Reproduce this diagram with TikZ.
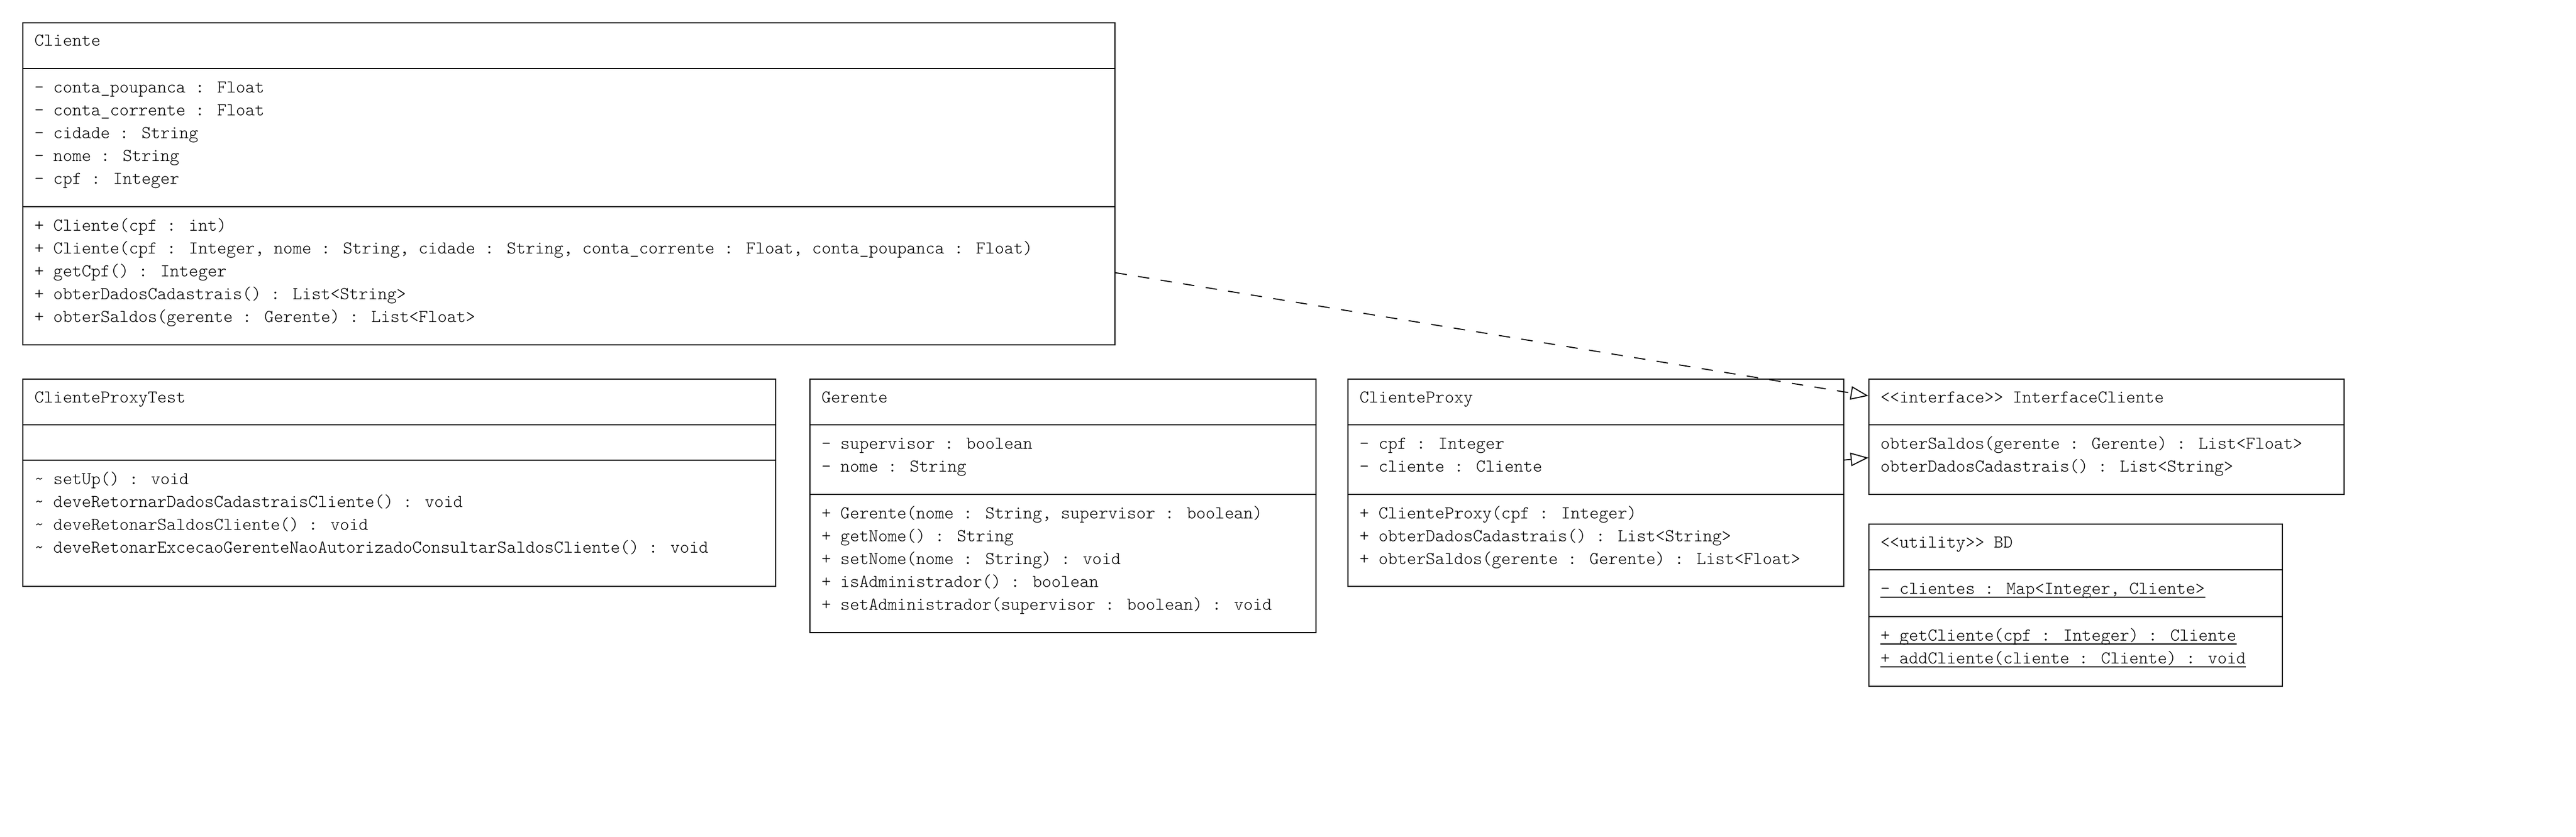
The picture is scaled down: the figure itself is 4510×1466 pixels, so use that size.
\documentclass[tikz,border=0pt]{standalone}
\usetikzlibrary{arrows.meta,fit}
\begin{document}
\begin{tikzpicture}[x=0.5pt,y=-0.5pt,
  box/.style={draw, line width=0.9pt, inner sep=0pt},
  sep/.style={line width=0.9pt},
  txt/.style={anchor=base west, inner sep=0pt, font={\fontsize{15.75pt}{20pt}\ttfamily\fontseries{l}\selectfont}},
  uline/.style={line width=0.6pt},
  realize/.style={line width=0.9pt, -{Triangle[open,length=15.5pt,width=11.75pt]}},
  dashedrealize/.style={realize, dash pattern=on 10pt off 10pt}]
\useasboundingbox (0,0) rectangle (4510,1466);

% ---------------- Cliente
\node[box, fit={(40,40)(1952,604)}] (cliente) {};
\draw[sep] (cliente.west |- 0,120) -- (cliente.east |- 0,120);
\draw[sep] (cliente.west |- 0,362) -- (cliente.east |- 0,362);
\node[txt] (cl-h) at (60,81) {Cliente};
\node[txt] (cl-a1) at (60,162.5) {- conta\_poupanca : Float};
\node[txt] (cl-a2) at (60,202.5) {- conta\_corrente : Float};
\node[txt] (cl-a3) at (60,242.5) {- cidade : String};
\node[txt] (cl-a4) at (60,282.5) {- nome : String};
\node[txt] (cl-a5) at (60,322.5) {- cpf : Integer};
\node[txt] (cl-m1) at (60,404.5) {+ Cliente(cpf : int)};
\node[txt] (cl-m2) at (60,444.5) {+ Cliente(cpf : Integer, nome : String, cidade : String, conta\_corrente : Float, conta\_poupanca : Float)};
\node[txt] (cl-m3) at (60,484.5) {+ getCpf() : Integer};
\node[txt] (cl-m4) at (60,524.5) {+ obterDadosCadastrais() : List<String>};
\node[txt] (cl-m5) at (60,564.5) {+ obterSaldos(gerente : Gerente) : List<Float>};

% ---------------- ClienteProxyTest
\node[box, fit={(40,664)(1358,1027)}] (test) {};
\draw[sep] (test.west |- 0,744) -- (test.east |- 0,744);
\draw[sep] (test.west |- 0,806) -- (test.east |- 0,806);
\node[txt] (t-h) at (60,705) {ClienteProxyTest};
\node[txt] (t-m1) at (60,848) {\textasciitilde{} setUp() : void};
\node[txt] (t-m2) at (60,888) {\textasciitilde{} deveRetornarDadosCadastraisCliente() : void};
\node[txt] (t-m3) at (60,928) {\textasciitilde{} deveRetonarSaldosCliente() : void};
\node[txt] (t-m4) at (60,968) {\textasciitilde{} deveRetonarExcecaoGerenteNaoAutorizadoConsultarSaldosCliente() : void};

% ---------------- Gerente
\node[box, fit={(1418,664)(2304,1108)}] (gerente) {};
\draw[sep] (gerente.west |- 0,744) -- (gerente.east |- 0,744);
\draw[sep] (gerente.west |- 0,866) -- (gerente.east |- 0,866);
\node[txt] (g-h) at (1438,705) {Gerente};
\node[txt] (g-a1) at (1438,786.5) {- supervisor : boolean};
\node[txt] (g-a2) at (1438,826.5) {- nome : String};
\node[txt] (g-m1) at (1438,908.5) {+ Gerente(nome : String, supervisor : boolean)};
\node[txt] (g-m2) at (1438,948.5) {+ getNome() : String};
\node[txt] (g-m3) at (1438,988.5) {+ setNome(nome : String) : void};
\node[txt] (g-m4) at (1438,1028.5) {+ isAdministrador() : boolean};
\node[txt] (g-m5) at (1438,1068.5) {+ setAdministrador(supervisor : boolean) : void};

% ---------------- ClienteProxy
\node[box, fit={(2360,664)(3228,1027)}] (proxy) {};
\draw[sep] (proxy.west |- 0,744) -- (proxy.east |- 0,744);
\draw[sep] (proxy.west |- 0,866) -- (proxy.east |- 0,866);
\node[txt] (p-h) at (2380,705) {ClienteProxy};
\node[txt] (p-a1) at (2380,786.5) {- cpf : Integer};
\node[txt] (p-a2) at (2380,826.5) {- cliente : Cliente};
\node[txt] (p-m1) at (2380,908.5) {+ ClienteProxy(cpf : Integer)};
\node[txt] (p-m2) at (2380,948.5) {+ obterDadosCadastrais() : List<String>};
\node[txt] (p-m3) at (2380,988.5) {+ obterSaldos(gerente : Gerente) : List<Float>};

% ---------------- InterfaceCliente
\node[box, fit={(3272,664)(4104,866)}] (iface) {};
\draw[sep] (iface.west |- 0,744) -- (iface.east |- 0,744);
\node[txt] (i-h) at (3292,705) {<<interface>> InterfaceCliente};
\node[txt] (i-m1) at (3292,786.5) {obterSaldos(gerente : Gerente) : List<Float>};
\node[txt] (i-m2) at (3292,826.5) {obterDadosCadastrais() : List<String>};

% ---------------- BD
\node[box, fit={(3272,918)(3996,1202)}] (bd) {};
\draw[sep] (bd.west |- 0,998) -- (bd.east |- 0,998);
\draw[sep] (bd.west |- 0,1080) -- (bd.east |- 0,1080);
\node[txt] (b-h) at (3292,959) {<<utility>> BD};
\node[txt] (b-a1) at (3292,1040.5) {- clientes : Map<Integer, Cliente>};
\node[txt] (b-m1) at (3292,1122.5) {+ getCliente(cpf : Integer) : Cliente};
\node[txt] (b-m2) at (3292,1162.5) {+ addCliente(cliente : Cliente) : void};
\foreach \n in {b-a1,b-m1,b-m2}
  \draw[uline] ([yshift=-2.75pt]\n.base west) -- ([yshift=-2.75pt]\n.base east);

% ---------------- connectors
\coordinate (cl-out) at ([yshift=-77.85pt]cliente.east);
\coordinate (if-in1) at ([yshift=35.85pt]iface.west);
\coordinate (px-out) at ([yshift=19.9pt]proxy.east);
\coordinate (if-in2) at ([yshift=-18.35pt]iface.west);
\draw[dashedrealize] (cl-out) -- (if-in1);
\draw[realize] (px-out) -- (if-in2);
\end{tikzpicture}
\end{document}
